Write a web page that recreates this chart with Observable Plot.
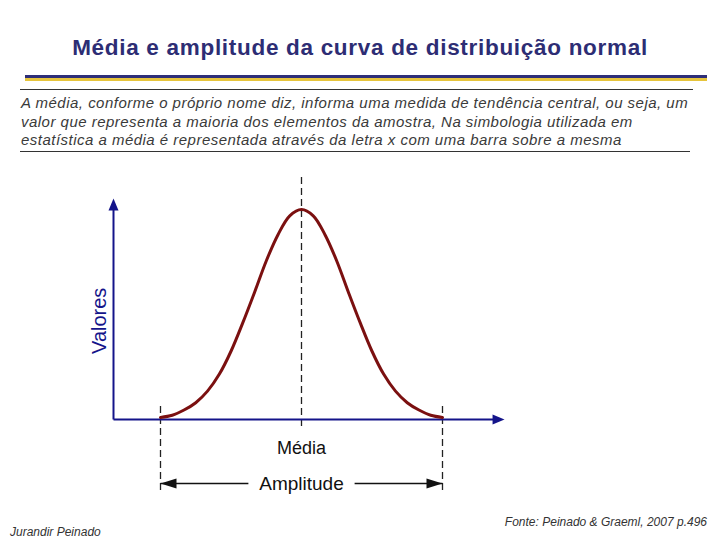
<!DOCTYPE html>
<html><head><meta charset="utf-8">
<script src="https://cdn.jsdelivr.net/npm/d3@7"></script>
<script src="https://cdn.jsdelivr.net/npm/@observablehq/plot@0.6"></script>
<style>
body{margin:0;background:#fff;}
#page{position:relative;width:720px;height:540px;overflow:hidden;font-family:"Liberation Sans",Arial,sans-serif;background:#fff;}
.abs{position:absolute;}
#title{top:35px;left:0;width:720px;text-align:center;font-size:22.5px;letter-spacing:0.7px;font-weight:bold;color:#2d2d74;}
#bar1{left:25px;top:75px;width:682px;height:3px;background:#2e2e78;}
#bar2{left:25px;top:78px;width:682px;height:3px;background:#e6c43c;}
#rule1{left:20px;top:89px;width:673px;height:1px;background:#333;}
#rule2{left:20px;top:151px;width:670px;height:1px;background:#333;}
#para{left:21px;top:94px;width:690px;font-size:15px;letter-spacing:0.48px;line-height:18.5px;font-style:italic;color:#3a3a3a;white-space:nowrap;}
#chart{left:0;top:160px;}
#foot1{left:10px;top:525px;font-size:12px;font-style:italic;color:#333;}
#foot2{right:13px;top:515px;font-size:12px;font-style:italic;color:#333;}
</style></head>
<body><div id="page">
<div class="abs" id="title">Média e amplitude da curva de distribuição normal</div>
<div class="abs" id="bar1"></div><div class="abs" id="bar2"></div>
<div class="abs" id="rule1"></div>
<div class="abs" id="para">A média, conforme o próprio nome diz, informa uma medida de tendência central, ou seja, um<br>valor que representa a maioria dos elementos da amostra, Na simbologia utilizada em<br>estatística a média é representada através da letra x com uma barra sobre a mesma</div>
<div class="abs" id="rule2"></div>
<div class="abs" id="chart"></div>
<div class="abs" id="foot1">Jurandir Peinado</div>
<div class="abs" id="foot2">Fonte: Peinado &amp; Graeml, 2007 p.496</div>
</div>
<script>
// Curve (x in deviations from the mean, y relative height)
const curveX = [-3, -2.75, -2.5, -2.25, -2, -1.75, -1.5, -1.25, -1, -0.75, -0.5, -0.25, 0, 0.25, 0.5, 0.75, 1, 1.25, 1.5, 1.75, 2, 2.25, 2.5, 2.75, 3];
const curveY = [0.01, 0.02, 0.045, 0.08, 0.135, 0.215, 0.325, 0.46, 0.605, 0.755, 0.88, 0.97, 1.0, 0.97, 0.88, 0.755, 0.605, 0.46, 0.325, 0.215, 0.135, 0.08, 0.045, 0.02, 0.01];
// Guides
const meanX = [0];
const rangeEnds = [-3, 3];
const axisOriginX = -4, axisEndX = 4.1, axisTipX = 4.32;
const axisEndY = 1.0, axisTipY = 1.052;
const meanGuide = [1.152, -0.048];
const rangeGuide = [0.062, -0.352];
const amplitudeY = -0.305, amplitudeGap = 1.13;
const labelValores = "Valores", labelMedia = "Média", labelAmplitude = "Amplitude";
const mediaY = -0.138, valoresX = -4.3, valoresY = 0.47;

const curve = curveX.map((x, i) => ({x, y: curveY[i]}));
const navy = "#14148a", maroon = "#7b1010";

const head = (dir, len, wid) => ({draw(ctx){
  ctx.moveTo(0,0);
  if (dir === "up") { ctx.lineTo(wid/2, len); ctx.lineTo(-wid/2, len); }
  else if (dir === "right") { ctx.lineTo(-len, wid/2); ctx.lineTo(-len, -wid/2); }
  else { ctx.lineTo(len, wid/2); ctx.lineTo(len, -wid/2); }
  ctx.closePath();
}});

const chart = Plot.plot({
  width: 720, height: 340, margin: 0,
  x: {type: "linear", domain: [-3, 3], range: [160, 442], axis: null},
  y: {type: "linear", domain: [0, 1], range: [259, 49], axis: null},
  style: {fontFamily: "'Liberation Sans', Arial, sans-serif", background: "transparent"},
  marks: [
    Plot.ruleX(meanX, {x: d => d, y1: meanGuide[0], y2: meanGuide[1], stroke: "#222", strokeWidth: 1.3, strokeDasharray: "7,4"}),
    Plot.ruleX(rangeEnds, {x: d => d, y1: rangeGuide[0], y2: rangeGuide[1], stroke: "#222", strokeWidth: 1.3, strokeDasharray: "7,4"}),
    Plot.link([{x1: axisOriginX, y1: 0, x2: axisOriginX, y2: axisEndY}, {x1: axisOriginX, y1: 0, x2: axisEndX, y2: 0}],
      {x1: "x1", y1: "y1", x2: "x2", y2: "y2", stroke: navy, strokeWidth: 2}),
    Plot.dot([{x: axisOriginX, y: axisTipY}], {x: "x", y: "y", symbol: head("up", 12, 10), fill: navy, stroke: null}),
    Plot.dot([{x: axisTipX, y: 0}], {x: "x", y: "y", symbol: head("right", 12, 10), fill: navy, stroke: null}),
    Plot.line(curve, {x: "x", y: "y", stroke: maroon, strokeWidth: 3, curve: "catmull-rom"}),
    Plot.link([{x1: rangeEnds[0], x2: -amplitudeGap}, {x1: amplitudeGap, x2: rangeEnds[1]}],
      {x1: "x1", x2: "x2", y1: () => amplitudeY, y2: () => amplitudeY, stroke: "#111", strokeWidth: 1.5}),
    Plot.dot([{x: rangeEnds[0], y: amplitudeY}], {x: "x", y: "y", symbol: head("left", 16, 10), fill: "#111", stroke: null}),
    Plot.dot([{x: rangeEnds[1], y: amplitudeY}], {x: "x", y: "y", symbol: head("right", 16, 10), fill: "#111", stroke: null}),
    Plot.text([labelMedia], {x: () => 0, y: () => mediaY, text: d => d, fontSize: 18, fill: "#111"}),
    Plot.text([labelAmplitude], {x: () => 0, y: () => amplitudeY, text: d => d, fontSize: 19, fill: "#111"}),
    Plot.text([labelValores], {x: () => valoresX, y: () => valoresY, text: d => d, fontSize: 20, fill: navy, rotate: -90})
  ]
});
document.getElementById("chart").appendChild(chart);
</script>
</body></html>
